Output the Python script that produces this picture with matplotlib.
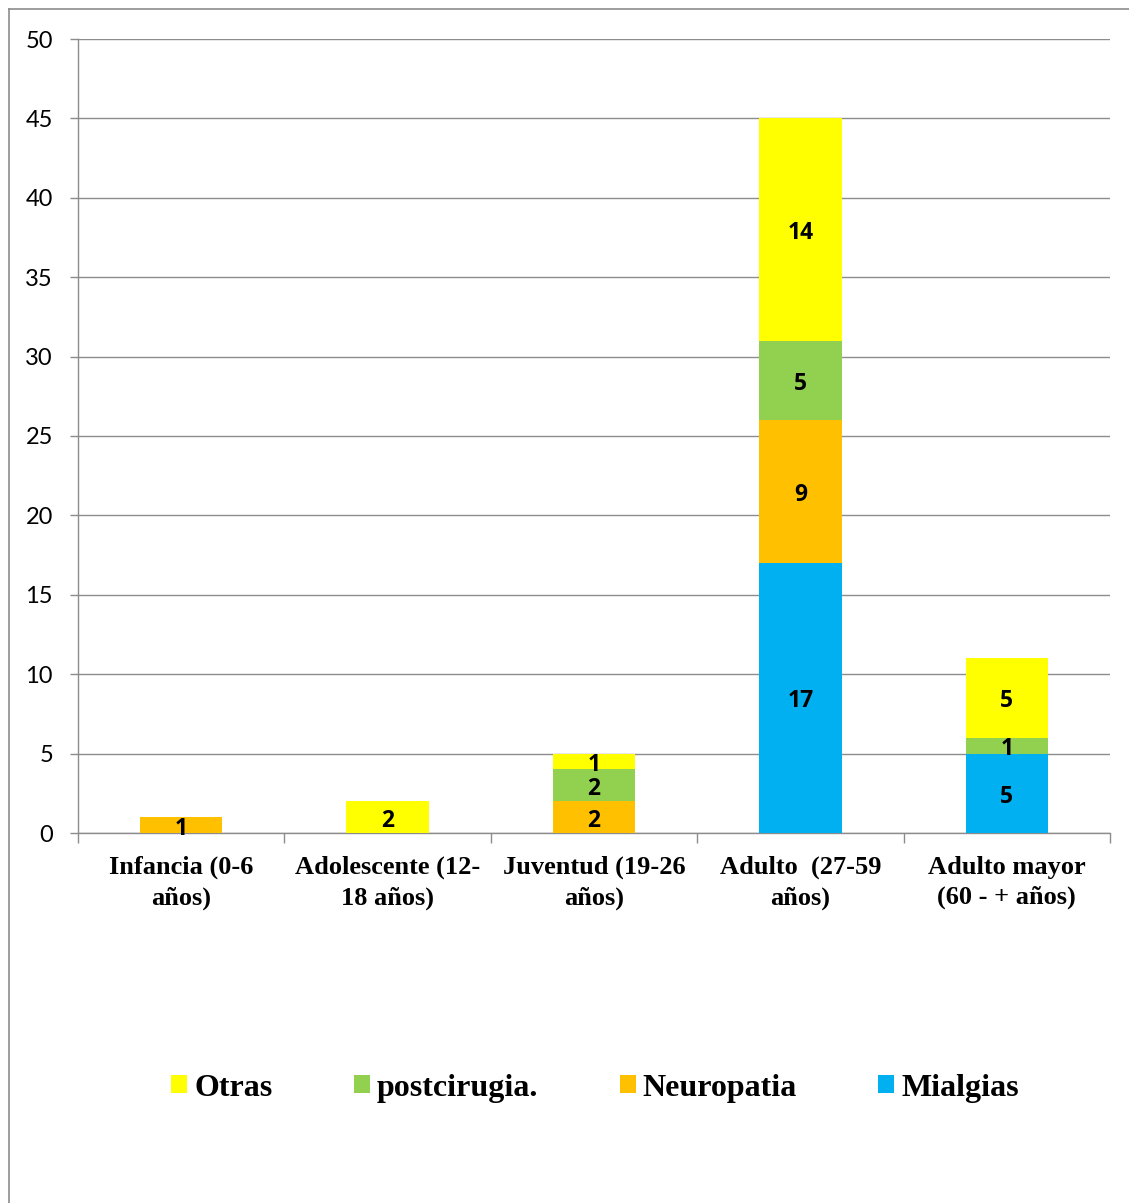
import matplotlib
matplotlib.use("Agg")
import matplotlib.pyplot as plt
import numpy as np
from matplotlib.lines import Line2D

categories = ["Infancia (0-6\naños)", "Adolescente (12-\n18 años)", "Juventud (19-26\naños)",
              "Adulto  (27-59\naños)", "Adulto mayor\n(60 - + años)"]
mialgias = [0, 0, 0, 17, 5]
neuropatia = [1, 0, 2, 9, 0]
postcirugia = [0, 0, 2, 5, 1]
otras = [0, 2, 1, 14, 5]

series = [
    ("Mialgias", mialgias, "#00B0F0"),
    ("Neuropatia", neuropatia, "#FFC000"),
    ("postcirugia.", postcirugia, "#92D050"),
    ("Otras", otras, "#FFFF00"),
]

grid_c = "#8C8C8C"
fig = plt.figure(figsize=(11.29, 12.03), dpi=100)
ax = fig.add_axes([78 / 1129, 1 - 833 / 1203, (1110 - 78) / 1129, (833 - 39) / 1203])

x = np.arange(len(categories))
bottom = np.zeros(len(categories))
handles = {}
for name, vals, col in series:
    vals = np.array(vals, dtype=float)
    bars = ax.bar(x, vals, 0.4, bottom=bottom, color=col, zorder=3, label=name)
    handles[name] = bars
    for xi, v, b in zip(x, vals, bottom):
        if v > 0:
            ax.annotate(f"{int(v)}", (xi, b + v / 2), xytext=(0, -2.5), textcoords="offset points",
                        ha="center", va="center", fontsize=16.5, fontweight="bold",
                        family="Open Sans", zorder=4)
    bottom += vals

ax.set_xlim(-0.5, len(categories) - 0.5)
ax.set_ylim(0, 50)
ax.set_yticks(np.arange(0, 51, 5))
ax.yaxis.grid(True, color=grid_c, lw=1, zorder=0)
ax.tick_params(axis="y", length=6, width=1, color=grid_c, labelsize=17, pad=12)
for lab in ax.get_yticklabels():
    lab.set_family("Lato")

ax.set_xticks(x)
ax.set_xticklabels(categories, fontsize=19, fontweight="bold", family="Liberation Serif",
                   linespacing=1.38)
ax.tick_params(axis="x", which="major", length=0, pad=16.5)
ax.set_xticks(np.arange(-0.5, len(categories), 1.0), minor=True)
ax.tick_params(axis="x", which="minor", length=7, width=1, color=grid_c)

for s in ["top", "right"]:
    ax.spines[s].set_visible(False)
for s in ["left", "bottom"]:
    ax.spines[s].set_color(grid_c)
    ax.spines[s].set_linewidth(1)

order = ["Otras", "postcirugia.", "Neuropatia", "Mialgias"]
leg = fig.legend([handles[n] for n in order], order, loc="center", bbox_to_anchor=(0.527, 0.0955),
                 ncol=4, frameon=False, handlelength=0.5, handleheight=0.5, handletextpad=0.22,
                 columnspacing=2.55, prop={"family": "Liberation Serif", "weight": "bold", "size": 23})

# outer chart frame
fig.add_artist(Line2D([9 / 1129, 1.0], [1 - 9 / 1203, 1 - 9 / 1203], color=grid_c, lw=1.2,
                      transform=fig.transFigure))
fig.add_artist(Line2D([9 / 1129, 9 / 1129], [0, 1 - 9 / 1203], color=grid_c, lw=1.2,
                      transform=fig.transFigure))

fig.savefig("out.png", dpi=100)
